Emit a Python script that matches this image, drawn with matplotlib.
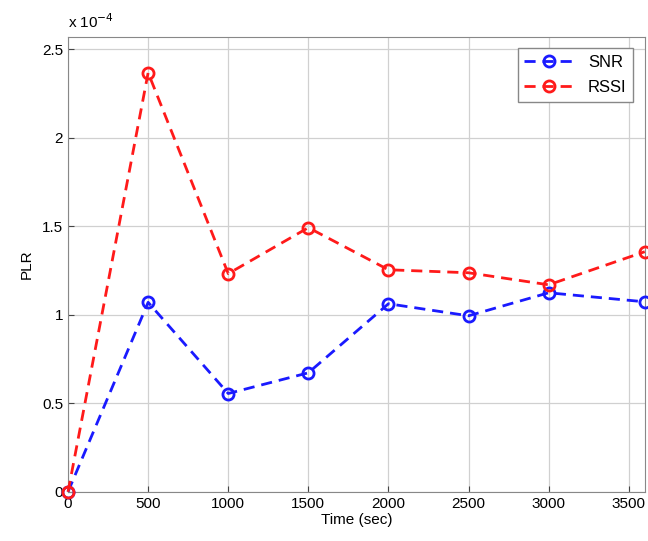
import numpy as np
from matplotlib import pyplot as plt

# PLR values, in units of 1e-4
time_sec = [0, 500, 1000, 1500, 2000, 2500, 3000, 3600]
snr = [0.0, 1.07, 0.555, 0.672, 1.062, 0.994, 1.124, 1.073]
rssi = [0.0, 2.367, 1.232, 1.492, 1.254, 1.237, 1.169, 1.356]
xticks = [0, 500, 1000, 1500, 2000, 2500, 3000, 3500]
yticks = [0, 0.5, 1, 1.5, 2, 2.5]
ytick_labels = ['0', '0.5', '1', '1.5', '2', '2.5']

plt.rcParams['font.family'] = ['Liberation Sans', 'DejaVu Sans']

fig = plt.figure(figsize=(6.48, 5.41), dpi=100)
ax = fig.add_axes([0.105, 0.091, 0.89, 0.841])

ax.plot(time_sec, snr, '--o', color='#1a1aff', lw=2, ms=8, mfc='none', mew=2,
        dashes=(4, 2.5), label='SNR', clip_on=False, zorder=3)
ax.plot(time_sec, rssi, '--o', color='#ff1a1a', lw=2, ms=8, mfc='none', mew=2,
        dashes=(4, 2.5), label='RSSI', clip_on=False, zorder=4)

ax.set_xlim(0, 3600)
ax.set_ylim(0, 2.57)
ax.set_xticks(xticks)
ax.set_yticks(yticks)
ax.set_yticklabels(ytick_labels)
ax.tick_params(direction='in', labelsize=11, length=4, color='#444444')
ax.grid(True, color='#d0d0d0', lw=0.9)
for s in ax.spines.values():
    s.set_color('#888888')

ax.set_xlabel('Time (sec)', fontsize=11, labelpad=2)
ax.set_ylabel('PLR', fontsize=11, labelpad=6)
ax.text(0.0, 1.012, 'x 10$^{-4}$', transform=ax.transAxes, fontsize=11,
        ha='left', va='bottom')

leg = ax.legend(loc='upper right', fontsize=12, fancybox=False, framealpha=1,
                edgecolor='#888888', borderaxespad=0.7, handlelength=3.0,
                labelspacing=0.6)

fig.savefig('out.png', dpi=100)
